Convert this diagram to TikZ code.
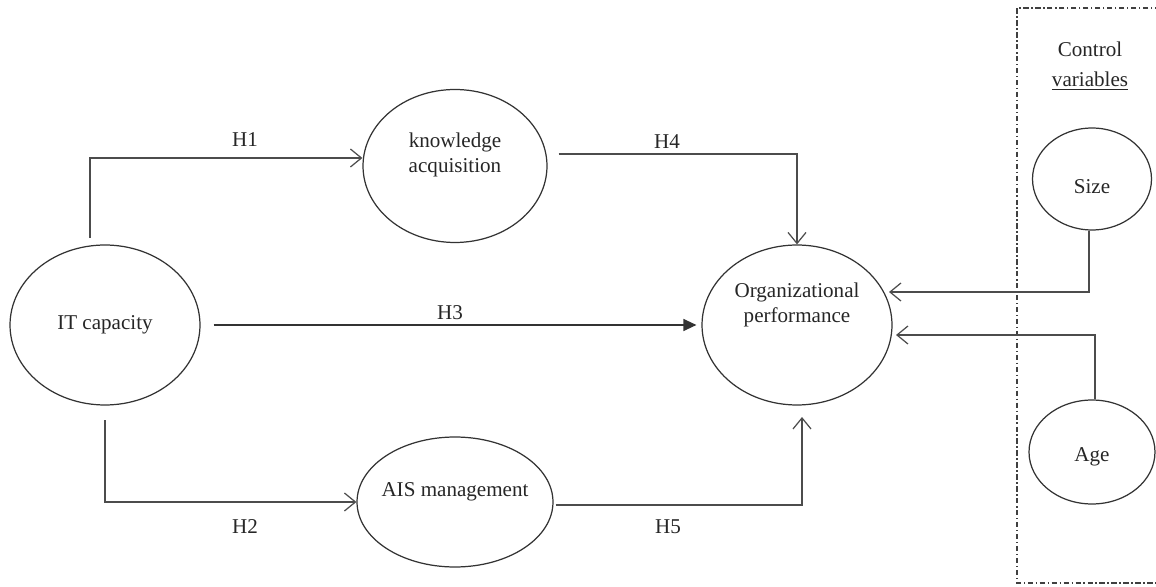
\documentclass[tikz,border=0pt]{standalone}
\usepackage{fontspec}
\setmainfont{Liberation Serif}
\usetikzlibrary{shapes.geometric,arrows.meta}
\begin{document}
\begin{tikzpicture}[x=0.02cm, y=-0.02cm,
  every node/.style={font=\fontsize{12}{14}\selectfont, text=black!85},
  var/.style={draw=black!80, ellipse, line width=0.7pt, inner sep=0pt},
  arr/.style={draw=black!70, line width=0.7pt, -{Straight Barb[length=2.2mm, width=3.6mm]}},
  arrfill/.style={draw=black!80, line width=0.7pt, -{Triangle[length=2.6mm, width=2.4mm]}}]
\useasboundingbox (0,0) rectangle (1156,587);
% constructs
\node[var, minimum width=3.8cm, minimum height=3.2cm] (it) at (105,325) {IT capacity};
\node[var, minimum width=3.68cm, minimum height=3.06cm,
  label={[align=center, yshift=0.22cm]center:knowledge\\acquisition}] (ka) at (455,166) {};
\node[var, minimum width=3.8cm, minimum height=3.2cm,
  label={[align=center, yshift=0.4cm]center:Organizational\\performance}] (op) at (797,325) {};
\node[var, minimum width=3.92cm, minimum height=2.6cm,
  label={[yshift=0.2cm]center:AIS management}] (ais) at (455,502) {};
\node[var, minimum width=2.38cm, minimum height=2.04cm,
  label={[yshift=-0.16cm]center:Size}] (size) at (1092,179) {};
\node[var, minimum width=2.52cm, minimum height=2.08cm,
  label={[yshift=-0.1cm]center:Age}] (age) at (1092,452) {};
% control box
\draw[black!75, line width=0.6pt, dash pattern=on 3pt off 1.5pt on 0.8pt off 1.5pt]
  (1160,8) -- (1017,8) -- (1017,583) -- (1160,583);
\node[align=center] (ctrl) at (1090,66) {Control\\[3pt]\underline{variables}};
% paths
\coordinate (h1s) at (90,238);
\coordinate (h2s) at (105,420);
\coordinate (h5e) at (802,417);
\coordinate (sz) at (889,292);
\coordinate (ag) at (896,335);
\draw[arr] (h1s) |- ([yshift=0.16cm]ka.west);
\draw[arr] ([yshift=0.24cm, xshift=0.22cm]ka.east) -| (op.north);
\draw[arrfill] ([xshift=0.26cm]it.east) -- ([xshift=-0.1cm]op.west);
\draw[arr] (h2s) |- (ais.west);
\draw[arr] ([yshift=-0.06cm, xshift=0.04cm]ais.east) -| (h5e);
\draw[arr] ([xshift=-0.06cm]size.south) |- (sz);
\draw[arr] ([xshift=0.06cm]age.north) |- (ag);
% labels
\node (h1) at (245,140) {H1};
\node (h4) at (667,142) {H4};
\node (h3) at (450,313) {H3};
\node (h2) at (245,527) {H2};
\node (h5) at (668,527) {H5};
\end{tikzpicture}
\end{document}
